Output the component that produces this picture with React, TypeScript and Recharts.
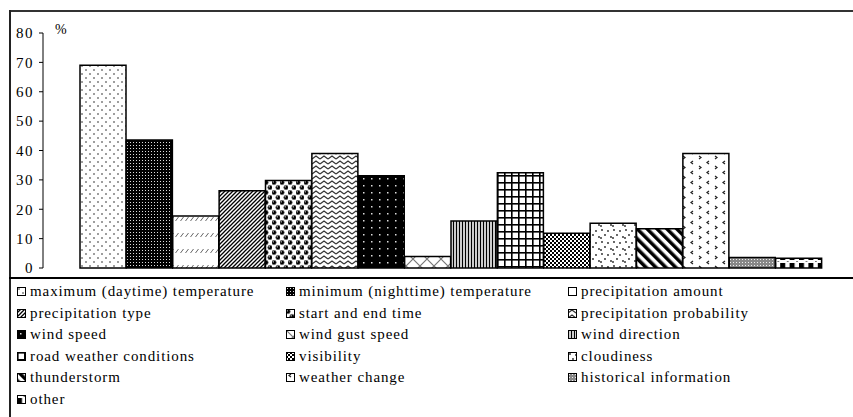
import React from 'react';
import { BarChart, Bar, XAxis, YAxis, Cell } from 'recharts';

// Share of respondents interested in each forecast element (%)
const categories = [
  'maximum (daytime) temperature',
  'minimum (nighttime) temperature',
  'precipitation amount',
  'precipitation type',
  'start and end time',
  'precipitation probability',
  'wind speed',
  'wind gust speed',
  'wind direction',
  'road weather conditions',
  'visibility',
  'cloudiness',
  'thunderstorm',
  'weather change',
  'historical information',
  'other',
];
const shares = [69, 43.6, 17.7, 26.3, 29.8, 39, 31.4, 3.9, 16, 32.4, 11.8, 15.2, 13.4, 39, 3.6, 3.3];
const yTicks = [0, 10, 20, 30, 40, 50, 60, 70, 80];

const data = categories.map((name, i) => ({ name, value: shares[i] }));

const serif = 'Liberation Serif, DejaVu Serif, Times, serif';
const legendCols = [17, 286, 568];
const rowPitch = 21.6;
const firstRow = 291.5;

function PatternDefs() {
  return (
    <svg width={0} height={0} style={{ position: 'absolute' }}>
      <defs>
        <pattern id="p0" width={8} height={8} patternUnits="userSpaceOnUse">
          <rect width={8} height={8} fill="#fff" />
          <circle cx={2} cy={2} r={0.8} fill="#222" />
          <circle cx={6} cy={6} r={0.8} fill="#222" />
        </pattern>
        <pattern id="p1" width={3} height={3} patternUnits="userSpaceOnUse">
          <rect width={3} height={3} fill="#000" />
          <rect x={1} y={1} width={1} height={1} fill="#ddd" />
        </pattern>
        <pattern id="p2" width={5} height={16} patternUnits="userSpaceOnUse">
          <rect width={5} height={16} fill="#fff" />
          <line x1={0.5} y1={13} x2={3.5} y2={9} stroke="#666" strokeWidth={1} />
        </pattern>
        <pattern id="p3" width={4} height={4} patternUnits="userSpaceOnUse">
          <rect width={4} height={4} fill="#fff" />
          <path d="M0,4 L4,0 M-1,1 L1,-1 M3,5 L5,3" stroke="#000" strokeWidth={1.3} />
        </pattern>
        <pattern id="p4" width={8} height={10} patternUnits="userSpaceOnUse">
          <rect width={8} height={10} fill="#fff" />
          <circle cx={2} cy={2.5} r={2.3} fill="#000" stroke="#777" strokeWidth={0.6} />
          <circle cx={6} cy={7.5} r={2.3} fill="#000" stroke="#777" strokeWidth={0.6} />
          <circle cx={1.3} cy={1.8} r={0.6} fill="#fff" />
          <circle cx={5.3} cy={6.8} r={0.6} fill="#fff" />
        </pattern>
        <pattern id="p5" width={8} height={5} patternUnits="userSpaceOnUse">
          <rect width={8} height={5} fill="#fff" />
          <polyline points="0,4 4,1 8,4" fill="none" stroke="#333" strokeWidth={1.2} />
        </pattern>
        <pattern id="p6" width={8} height={7} patternUnits="userSpaceOnUse">
          <rect width={8} height={7} fill="#000" />
          <rect x={3} y={3} width={1.5} height={1.5} fill="#ddd" />
        </pattern>
        <pattern id="p7" width={14} height={14} patternUnits="userSpaceOnUse">
          <rect width={14} height={14} fill="#fff" />
          <path d="M0,0 L14,14 M14,0 L0,14" stroke="#777" strokeWidth={1.2} />
        </pattern>
        <pattern id="p8" width={3} height={3} patternUnits="userSpaceOnUse">
          <rect width={3} height={3} fill="#ccc" />
          <rect width={1} height={3} fill="#000" />
        </pattern>
        <pattern id="p9" width={7} height={7} patternUnits="userSpaceOnUse">
          <rect width={7} height={7} fill="#fff" />
          <rect width={7} height={1.6} fill="#000" />
          <rect width={1.6} height={7} fill="#000" />
        </pattern>
        <pattern id="p10" width={4} height={4} patternUnits="userSpaceOnUse">
          <rect width={4} height={4} fill="#fff" />
          <rect width={2} height={2} fill="#000" />
          <rect x={2} y={2} width={2} height={2} fill="#000" />
        </pattern>
        <pattern id="p11" width={12} height={12} patternUnits="userSpaceOnUse">
          <rect width={12} height={12} fill="#fff" />
          <circle cx={2} cy={2} r={0.9} fill="#222" />
          <circle cx={8} cy={3} r={0.9} fill="#222" />
          <circle cx={5} cy={7} r={0.9} fill="#222" />
          <circle cx={11} cy={9} r={0.9} fill="#222" />
          <circle cx={1} cy={10} r={0.9} fill="#222" />
        </pattern>
        <pattern id="p12" width={7} height={7} patternUnits="userSpaceOnUse" patternTransform="rotate(-45)">
          <rect width={7} height={7} fill="#fff" />
          <rect width={3.5} height={7} fill="#000" />
        </pattern>
        <pattern id="p13" width={16} height={10} patternUnits="userSpaceOnUse">
          <rect width={16} height={10} fill="#fff" />
          <polyline points="5,1 3,2.5 5,4" fill="none" stroke="#222" strokeWidth={1.2} />
          <polyline points="11,6 13,7.5 11,9" fill="none" stroke="#222" strokeWidth={1.2} />
        </pattern>
        <pattern id="p14" width={3} height={3} patternUnits="userSpaceOnUse">
          <rect width={3} height={3} fill="#888" />
          <rect x={1} y={1} width={1} height={1} fill="#eee" />
        </pattern>
        <pattern id="p15" width={9.4} height={10} patternUnits="userSpaceOnUse">
          <rect width={9.4} height={10} fill="#fff" />
          <rect x={0} y={3} width={5} height={7} fill="#000" />
          <rect x={7} y={1} width={1} height={1} fill="#000" />
        </pattern>
      </defs>
    </svg>
  );
}

export default function App() {
  return (
    <div style={{ position: 'absolute', left: 0, top: 0, width: 853, height: 417, background: '#fff', overflow: 'hidden' }}>
      <PatternDefs />

      {/* frame */}
      <div style={{ position: 'absolute', left: 9, top: 10, width: 844, height: 2, background: '#333' }} />
      <div style={{ position: 'absolute', left: 9, top: 10, width: 2, height: 407, background: '#222' }} />
      <div style={{ position: 'absolute', left: 9, top: 277, width: 844, height: 1.5, background: '#000' }} />

      <div style={{ position: 'absolute', left: 0, top: 0 }}>
        <BarChart width={853} height={280} data={data} margin={{ top: 33, right: 0, bottom: 12, left: 0 }} barCategoryGap={0}>
          <XAxis dataKey="name" hide padding={{ left: 37, right: 31 }} />
          <YAxis
            width={43}
            domain={[0, 80]}
            ticks={yTicks}
            interval={0}
            tickSize={4}
            tickMargin={5}
            axisLine={{ stroke: '#000' }}
            tickLine={{ stroke: '#000' }}
            tick={{ fill: '#000', fontSize: 15, fontFamily: serif, letterSpacing: 1.5 }}
          />
          <Bar dataKey="value" isAnimationActive={false} stroke="#000" strokeWidth={1.5}>
            {data.map((d, i) => (
              <Cell key={d.name} fill={`url(#p${i})`} />
            ))}
          </Bar>
        </BarChart>
      </div>

      <div style={{ position: 'absolute', left: 55, top: 22, fontFamily: serif, fontSize: 14 }}>%</div>

      {/* legend */}
      {categories.map((name, i) => {
        const col = i % 3;
        const row = Math.floor(i / 3);
        return (
          <div
            key={name}
            style={{
              position: 'absolute',
              left: legendCols[col],
              top: firstRow + row * rowPitch - 10,
              height: 20,
              display: 'flex',
              alignItems: 'center',
              fontFamily: serif,
              fontSize: 15,
              letterSpacing: 0.9,
              whiteSpace: 'nowrap',
              color: '#000',
            }}
          >
            <svg width={9} height={9} style={{ marginRight: 4 }}>
              <rect x={0.5} y={0.5} width={8} height={8} fill={`url(#p${i})`} stroke="#000" strokeWidth={1} />
            </svg>
            {name}
          </div>
        );
      })}
    </div>
  );
}
